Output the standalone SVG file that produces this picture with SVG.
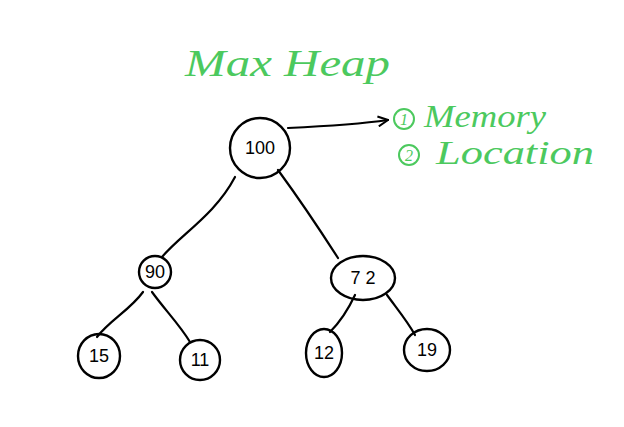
<svg xmlns="http://www.w3.org/2000/svg" width="624" height="427" viewBox="0 0 624 427">
<defs>
<style>
.node{fill:none;stroke:#000;stroke-width:2.4}
.edge{fill:none;stroke:#000;stroke-width:2.2;stroke-linecap:round}
.lbl{font-family:"Liberation Sans",sans-serif;font-size:18px;fill:#000;text-anchor:middle}
.green{font-family:"Liberation Serif",serif;font-style:italic;fill:#4CC95E}
.gc{fill:none;stroke:#4CC95E;stroke-width:2}
</style>
<marker id="ah" viewBox="0 0 12 12" refX="11" refY="6" markerWidth="12" markerHeight="12" markerUnits="userSpaceOnUse" orient="auto">
<path d="M1,1 L11,6 L1,11" fill="none" stroke="#000" stroke-width="2"/>
</marker>
</defs>
<rect width="624" height="427" fill="#fff"/>
<text class="green" x="185" y="76" font-size="38" textLength="205" lengthAdjust="spacingAndGlyphs">Max  Heap</text>
<g id="connectors">
<path class="edge" d="M288,128 C330,126 360,124 388,120" marker-end="url(#ah)"/>
<path class="edge" d="M235,177 C215,215 180,235 162,257"/>
<path class="edge" d="M278,170 C300,200 320,230 338,258"/>
<path class="edge" d="M143,292 C130,310 110,320 97,337"/>
<path class="edge" d="M152,292 C165,310 180,325 190,342"/>
<path class="edge" d="M355,295 C348,310 340,322 330,332"/>
<path class="edge" d="M387,295 C398,310 408,322 415,335"/>
</g>
<g id="n100"><ellipse class="node" cx="260" cy="148" rx="30" ry="30"/><text class="lbl" x="260" y="154">100</text></g>
<g id="n90"><ellipse class="node" cx="155" cy="272" rx="16" ry="16"/><text class="lbl" x="155" y="278">90</text></g>
<g id="n72"><ellipse class="node" cx="363" cy="278" rx="32" ry="22"/><text class="lbl" x="363" y="284">7 2</text></g>
<g id="n15"><ellipse class="node" cx="99" cy="356" rx="21" ry="22"/><text class="lbl" x="99" y="362">15</text></g>
<g id="n11"><ellipse class="node" cx="200" cy="360" rx="20" ry="20"/><text class="lbl" x="200" y="366">11</text></g>
<g id="n12"><ellipse class="node" cx="324" cy="353" rx="18" ry="24"/><text class="lbl" x="324" y="359">12</text></g>
<g id="n19"><ellipse class="node" cx="427" cy="350" rx="23" ry="21"/><text class="lbl" x="427" y="356">19</text></g>
<g id="notes">
<circle class="gc" cx="404" cy="119" r="10"/>
<text class="green" x="404" y="125" font-size="16" text-anchor="middle">1</text>
<text class="green" x="424" y="127" font-size="32" textLength="122" lengthAdjust="spacingAndGlyphs">Memory</text>
<circle class="gc" cx="409" cy="155" r="10"/>
<text class="green" x="409" y="161" font-size="16" text-anchor="middle">2</text>
<text class="green" x="436" y="164" font-size="34" textLength="158" lengthAdjust="spacingAndGlyphs">Location</text>
</g>
</svg>
